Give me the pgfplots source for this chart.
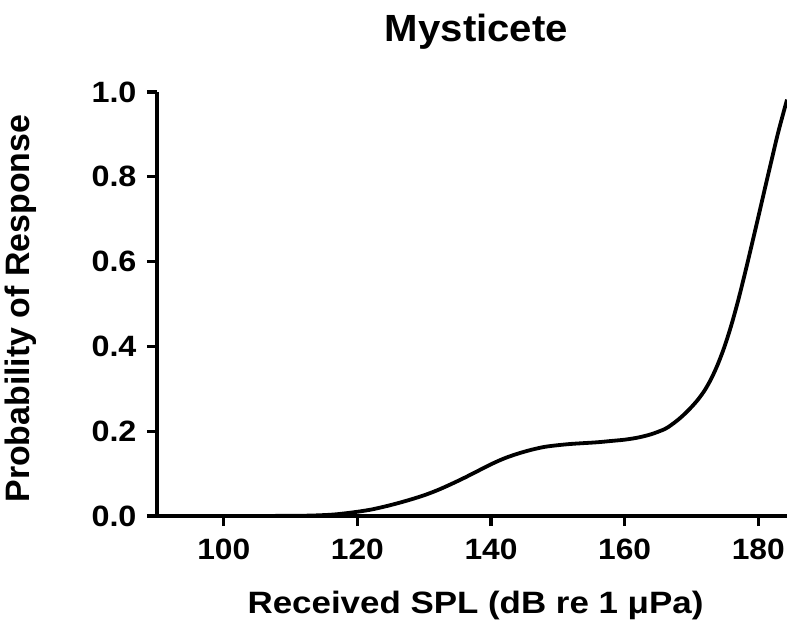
\documentclass[border=0pt]{standalone}
\usepackage{fontspec}
\setmainfont{Liberation Sans}
\usepackage{graphicx}
\usepackage{pgfplots}
\pgfplotsset{compat=1.18}
\newcommand{\sx}[2][1.1]{\scalebox{#1}[1]{#2}}
\begin{document}
\begin{tikzpicture}
\path[use as bounding box] (-157bp,-106bp) rectangle (630bp,516bp);
\begin{axis}[
  at={(0,0)}, anchor=south west,
  scale only axis, width=630bp, height=424bp,
  xmin=90, xmax=184.3, ymin=0, ymax=1,
  axis x line*=bottom, axis y line*=left,
  axis line style={line width=3.2bp, -},
  xtick={100,120,140,160,180},
  ytick={0,0.2,0.4,0.6,0.8,1.0},
  tick style={line width=3.2bp, black},
  major tick length=10bp,
  tick align=outside,
  /pgf/number format/assume math mode=true,
  xticklabel={\sx[1.08]{\pgfmathprintnumber{\tick}}},
  yticklabel={\sx[1.1]{\pgfmathprintnumber[fixed,fixed zerofill,precision=1]{\tick}}},
  tick label style={font=\fontsize{29.5}{31}\selectfont\bfseries},
  xticklabel style={yshift=-9bp},
  yticklabel style={xshift=-7bp},
  xlabel={\sx[1.13]{Received SPL (dB re 1 μPa)}},
  xlabel style={at={(axis description cs:0.5056,-0.2288)}, anchor=base, font=\fontsize{31}{33}\selectfont\bfseries},
  ylabel={Probability of Response},
  ylabel style={at={(axis description cs:-0.2016,0.489)}, anchor=base, rotate=0, font=\fontsize{34}{36}\selectfont\bfseries},
  title={\sx[1.06]{Mysticete}},
  title style={at={(axis description cs:0.507,1.106)}, anchor=base, font=\fontsize{38}{40}\selectfont\bfseries},
]
\addplot[line width=3.8bp, black, smooth, tension=0.5] coordinates {
(90,0) (100,0) (105,0) (110,0.0005) (113,0.001) (116,0.003) (118,0.006)
(120,0.010) (122,0.015) (124,0.022) (126,0.030) (128,0.039) (130,0.049)
(132,0.061) (134,0.075) (136,0.090) (138,0.106) (140,0.122) (142,0.136)
(144,0.147) (146,0.156) (148,0.163) (150,0.167) (152,0.170) (154,0.172)
(156,0.174) (158,0.177) (160,0.180) (162,0.185) (164,0.193) (166,0.205)
(167,0.215) (168,0.227) (169,0.241) (170,0.257) (171,0.275) (172,0.297)
(173,0.325) (174,0.360) (175,0.402) (176,0.452) (177,0.509) (178,0.572)
(179,0.638) (180,0.705) (181,0.773) (182,0.840) (183,0.906) (184.3,0.982)
};
\end{axis}
\end{tikzpicture}
\end{document}
